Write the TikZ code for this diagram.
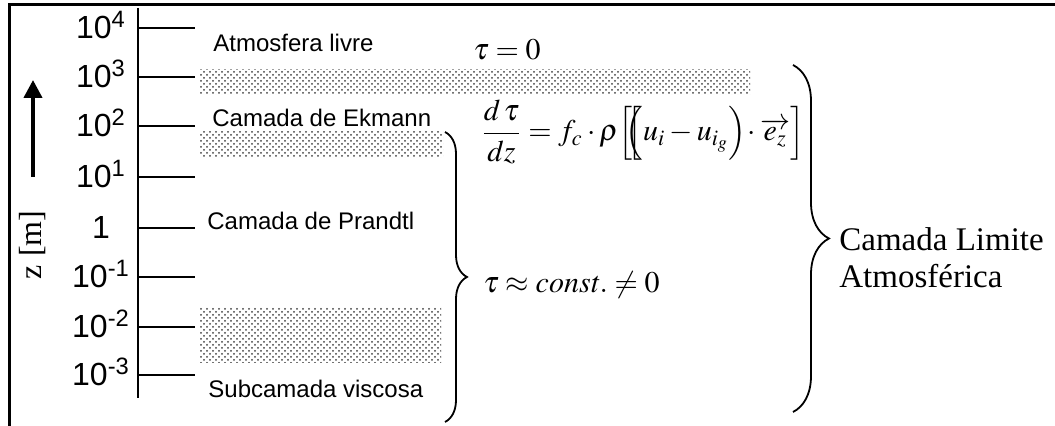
\documentclass[tikz,border=0pt]{standalone}
\usepackage{mathptmx}
\usepackage{fontspec}
\setmainfont{Liberation Serif}
\setsansfont{Liberation Sans}
\usetikzlibrary{arrows.meta,decorations.pathreplacing,patterns}

\begin{document}
\begin{tikzpicture}[
  x=0.5pt, y=-0.5pt,
  frame/.style={line width=1.5pt},
  tick/.style={line width=1pt},
  band/.style={pattern=crosshatch dots, pattern color=black!75},
  ticklabel/.style={font=\sffamily\fontsize{16}{18}\selectfont, anchor=base, inner sep=0pt},
  layer/.style={font=\sffamily\fontsize{12}{14}\selectfont, anchor=base west, inner sep=0pt},
  formula/.style={font=\fontsize{15}{18}\selectfont, anchor=base west, inner sep=0pt},
  curly/.style={decorate, decoration={brace, amplitude=#1}, line width=0.9pt},
  updir/.style={-{Triangle[length=9pt, width=9pt]}, line width=2pt}
]
  \useasboundingbox (0,0) rectangle (1055,426);
  \draw[frame] (9,426) -- (9,5) -- (1055,5);

  % height axis
  \coordinate (axtop) at (138,8);
  \coordinate (axbot) at (138,398);
  \draw[tick] (axtop) -- (axbot);
  \foreach \yy/\lab [count=\i] in {28/10\textsuperscript{4}, 77/10\textsuperscript{3},
      126/10\textsuperscript{2}, 177/10\textsuperscript{1}, 228/1,
      277/10\textsuperscript{-1}, 327/10\textsuperscript{-2}, 375/10\textsuperscript{-3}} {
    \draw[tick] (138,\yy) -- (195,\yy);
    \node[ticklabel] (tick\i) at (101,\yy+11) {\lab};
  }

  \coordinate (zfoot) at (33,177);
  \coordinate (ztip) at (33,80);
  \draw[updir] (zfoot) -- (ztip);
  \node[rotate=90, font=\fontsize{16}{18}\selectfont] (zlabel) at (33,245) {z [m]};

  % transition zones
  \fill[band] (200,70) rectangle (750,95);
  \fill[band] (200,132) rectangle (443,158);
  \fill[band] (200,308) rectangle (441,363);

  \node[layer] (free) at (213,52) {Atmosfera livre};
  \node[layer] (ekman) at (212,127) {Camada de Ekmann};
  \node[layer] (prandtl) at (207,230) {Camada de Prandtl};
  \node[layer] (viscous) at (208,398) {Subcamada viscosa};

  \node[formula] (tauzero) at (473,60) {$\tau = 0$};
  \node[formula] (ekmaneq) at (481,141)
    {$\displaystyle\frac{d\,\tau}{dz} = f_c \cdot \rho\Big[\mkern-3mu\Big[\mkern-10mu\Big(u_i - u_{i_g}\Big)\mkern-2mu\cdot\overrightarrow{e_z}\Big]$};
  \node[formula] (constlaw) at (483,293) {$\tau \approx \mathit{const.} \neq 0$};

  \coordinate (cttop) at (445,132);
  \coordinate (ctbot) at (445,422);
  \draw[curly=11pt] (cttop) -- (ctbot);

  \coordinate (abltop) at (793,65);
  \coordinate (ablbot) at (793,412);
  \draw[curly=18pt] (abltop) -- (ablbot);
  \node[font=\fontsize{16.5}{18.5}\selectfont, align=left, anchor=west, inner sep=0pt] (abl)
    at (839,258) {Camada Limite\\Atmosférica};
\end{tikzpicture}
\end{document}
